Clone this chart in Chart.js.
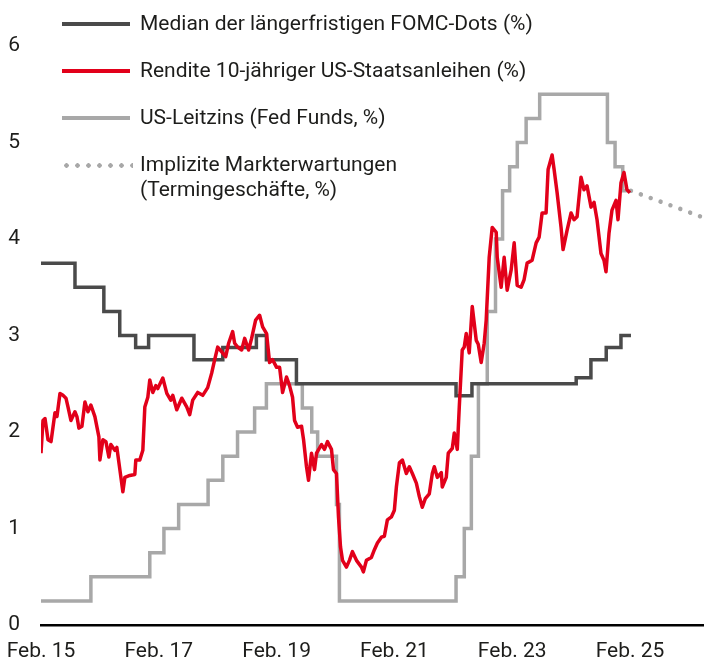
<!DOCTYPE html>
<html><head><meta charset="utf-8">
<script src="https://cdn.jsdelivr.net/npm/chart.js@4/dist/chart.umd.min.js"></script>
<style>
html,body{margin:0;padding:0;background:#fff;}
#wrap{position:relative;width:704px;height:664px;overflow:hidden;}
#c{position:absolute;left:0;top:0;}
#legend{position:absolute;left:0;top:0;width:704px;height:220px;font-family:Roboto,"Liberation Sans",sans-serif;font-size:21px;color:#1d1d1b;pointer-events:none;}
.sw{position:absolute;left:62px;width:68px;height:4px;}
.tx{position:absolute;left:140px;line-height:25px;white-space:nowrap;}
.dots{position:absolute;left:61px;width:72px;height:5px;background-image:radial-gradient(circle,#a8a8a8 2.1px,transparent 2.4px);background-size:11px 5px;background-repeat:repeat-x;}
</style></head>
<body>
<div id="wrap">
<canvas id="c" width="704" height="664"></canvas>
<div id="legend">
  <div class="sw" style="top:22px;background:#4a4a4a"></div>
  <div class="tx" style="top:11px">Median der längerfristigen FOMC-Dots (%)</div>
  <div class="sw" style="top:69px;background:#e2001a"></div>
  <div class="tx" style="top:58px">Rendite 10-jähriger US-Staatsanleihen (%)</div>
  <div class="sw" style="top:116px;background:#a8a8a8"></div>
  <div class="tx" style="top:105px">US-Leitzins (Fed Funds, %)</div>
  <div class="dots" style="top:163px"></div>
  <div class="tx" style="top:152px">Implizite Markterwartungen<br>(Termingeschäfte, %)</div>
</div>
</div>
<script>
// ---- data (x = decimal year) ----
const yieldDates = [2015.083,2015.117,2015.151,2015.202,2015.253,2015.320,2015.354,2015.405,2015.456,2015.507,2015.541,2015.591,2015.659,2015.693,2015.727,2015.778,2015.829,2015.880,2015.930,2015.998,2016.066,2016.083,2016.134,2016.185,2016.236,2016.269,2016.337,2016.371,2016.422,2016.473,2016.507,2016.591,2016.676,2016.693,2016.761,2016.812,2016.846,2016.897,2016.930,2016.981,2017.032,2017.066,2017.151,2017.219,2017.286,2017.320,2017.388,2017.473,2017.557,2017.608,2017.659,2017.744,2017.829,2017.913,2017.981,2018.032,2018.083,2018.151,2018.219,2018.269,2018.337,2018.371,2018.422,2018.490,2018.541,2018.608,2018.659,2018.727,2018.795,2018.846,2018.913,2018.964,2019.015,2019.083,2019.134,2019.185,2019.252,2019.303,2019.354,2019.388,2019.439,2019.507,2019.541,2019.591,2019.625,2019.676,2019.727,2019.761,2019.846,2019.896,2019.947,2020.015,2020.049,2020.100,2020.134,2020.168,2020.202,2020.269,2020.320,2020.371,2020.439,2020.524,2020.557,2020.608,2020.693,2020.744,2020.795,2020.863,2020.913,2020.964,2021.032,2021.083,2021.117,2021.168,2021.219,2021.286,2021.337,2021.388,2021.456,2021.507,2021.557,2021.608,2021.676,2021.727,2021.761,2021.812,2021.880,2021.896,2021.964,2021.998,2022.066,2022.100,2022.151,2022.185,2022.235,2022.269,2022.303,2022.354,2022.405,2022.473,2022.507,2022.557,2022.608,2022.642,2022.693,2022.744,2022.812,2022.829,2022.896,2022.947,2022.998,2023.066,2023.117,2023.168,2023.235,2023.286,2023.337,2023.422,2023.490,2023.541,2023.591,2023.659,2023.693,2023.761,2023.795,2023.846,2023.913,2023.947,2024.015,2024.083,2024.134,2024.185,2024.252,2024.303,2024.354,2024.422,2024.473,2024.524,2024.591,2024.642,2024.676,2024.727,2024.778,2024.846,2024.880,2024.930,2024.981,2025.032,2025.083];
const yieldValues = [1.78,2.12,2.14,1.92,1.90,2.20,2.16,2.40,2.38,2.35,2.26,2.12,2.21,2.16,2.04,2.06,2.31,2.21,2.28,2.16,1.95,1.71,1.92,1.90,1.74,1.87,1.81,1.84,1.61,1.38,1.53,1.55,1.56,1.71,1.71,1.81,2.26,2.36,2.54,2.41,2.48,2.45,2.56,2.40,2.33,2.38,2.23,2.35,2.26,2.18,2.33,2.41,2.38,2.46,2.61,2.75,2.88,2.83,2.78,2.92,3.04,2.92,2.88,2.85,2.97,2.85,2.97,3.16,3.21,3.09,3.02,2.72,2.75,2.67,2.67,2.41,2.57,2.48,2.36,2.12,2.05,2.06,1.92,1.64,1.50,1.78,1.61,1.78,1.87,1.82,1.90,1.82,1.61,1.57,1.12,0.81,0.67,0.60,0.67,0.76,0.67,0.60,0.55,0.67,0.70,0.78,0.85,0.91,0.92,1.09,1.12,1.19,1.43,1.68,1.71,1.57,1.64,1.57,1.47,1.33,1.22,1.31,1.36,1.57,1.64,1.53,1.58,1.43,1.53,1.78,1.83,1.99,1.82,2.26,2.85,2.88,3.02,2.82,3.30,2.95,2.91,2.72,2.92,3.16,3.81,4.12,4.07,3.81,3.50,3.81,3.47,3.68,3.96,3.52,3.50,3.58,3.75,3.78,3.96,4.02,4.27,4.27,4.72,4.87,4.72,4.48,4.12,3.89,4.09,4.27,4.20,4.23,4.64,4.51,4.55,4.33,4.38,4.20,3.85,3.78,3.66,4.06,4.30,4.40,4.20,4.58,4.69,4.51,4.48];

const fedDates  = [2015.083,2015.93,2016.93,2017.17,2017.42,2017.92,2018.17,2018.42,2018.71,2018.91,2019.52,2019.68,2019.78,2020.10,2020.15,2022.13,2022.27,2022.39,2022.51,2022.66,2022.80,2022.92,2023.04,2023.17,2023.32,2023.55,2024.70,2024.83,2024.96,2025.10];
const fedValues = [0.25,0.5,0.75,1.0,1.25,1.5,1.75,2.0,2.25,2.5,2.25,2.0,1.75,1.25,0.25,0.5,1.0,1.75,2.5,3.25,4.0,4.5,4.75,5.0,5.25,5.5,5.0,4.75,4.5,4.5];

const dotsDates  = [2015.083,2015.66,2016.15,2016.42,2016.69,2016.91,2017.68,2018.17,2018.74,2018.91,2019.42,2022.13,2022.40,2024.17,2024.42,2024.68,2024.93,2025.10];
const dotsValues = [3.75,3.5,3.25,3.0,2.875,3.0,2.75,2.875,3.0,2.75,2.5,2.375,2.5,2.5625,2.75,2.875,3.0,3.0];

const futDates  = [2025.10,2025.50,2025.90,2026.34];
const futValues = [4.50,4.41,4.32,4.22];

const tickYears  = [2015,2017,2019,2021,2023,2025];
const tickLabels = ['Feb. 15','Feb. 17','Feb. 19','Feb. 21','Feb. 23','Feb. 25'];
const yTicks = [0,1,2,3,4,5,6];

const pts = (xs, ys) => xs.map((x, i) => ({x: x, y: ys[i]}));
const FONT = {family: 'Roboto, "Liberation Sans", sans-serif', size: 21};

new Chart(document.getElementById('c'), {
  type: 'line',
  data: {
    datasets: [
      {data: pts(yieldDates, yieldValues), borderColor: '#e2001a', borderWidth: 3.5, pointRadius: 0, tension: 0, order: 1, borderJoinStyle: 'round'},
      {data: pts(dotsDates, dotsValues), borderColor: '#4a4a4a', borderWidth: 3.5, pointRadius: 0, stepped: true, order: 2},
      {data: pts(fedDates, fedValues), borderColor: '#a8a8a8', borderWidth: 3.5, pointRadius: 0, stepped: true, order: 3},
      {data: pts(futDates, futValues), borderColor: '#a8a8a8', borderWidth: 4.5, pointRadius: 0, borderDash: [0.01, 10.5], borderCapStyle: 'round', order: 4}
    ]
  },
  options: {
    responsive: false,
    animation: false,
    events: [],
    layout: {padding: {top: 46, left: 0, right: 0, bottom: 0}},
    plugins: {legend: {display: false}, tooltip: {enabled: false}},
    scales: {
      x: {
        type: 'linear', min: 2015.083, max: 2026.34,
        grid: {display: false, drawTicks: false},
        border: {display: true, color: '#000', width: 2.5},
        afterBuildTicks: s => { s.ticks = tickYears.map(y => ({value: y + 1/12})); },
        afterFit: s => { s.height = 39; s.paddingLeft = 0; s.paddingRight = 0; },
        ticks: {
          font: FONT, color: '#1d1d1b', padding: 14, autoSkip: false, maxRotation: 0,
          callback: (v, i) => tickLabels[i]
        }
      },
      y: {
        min: 0, max: 6,
        grid: {display: false, drawTicks: false},
        border: {display: false},
        afterBuildTicks: s => { s.ticks = yTicks.map(v => ({value: v})); },
        afterFit: s => { s.width = 41; s.paddingTop = 0; s.paddingBottom = 0; },
        ticks: {font: FONT, color: '#1d1d1b', padding: 21, callback: v => String(v)}
      }
    }
  }
});
</script>
</body></html>
